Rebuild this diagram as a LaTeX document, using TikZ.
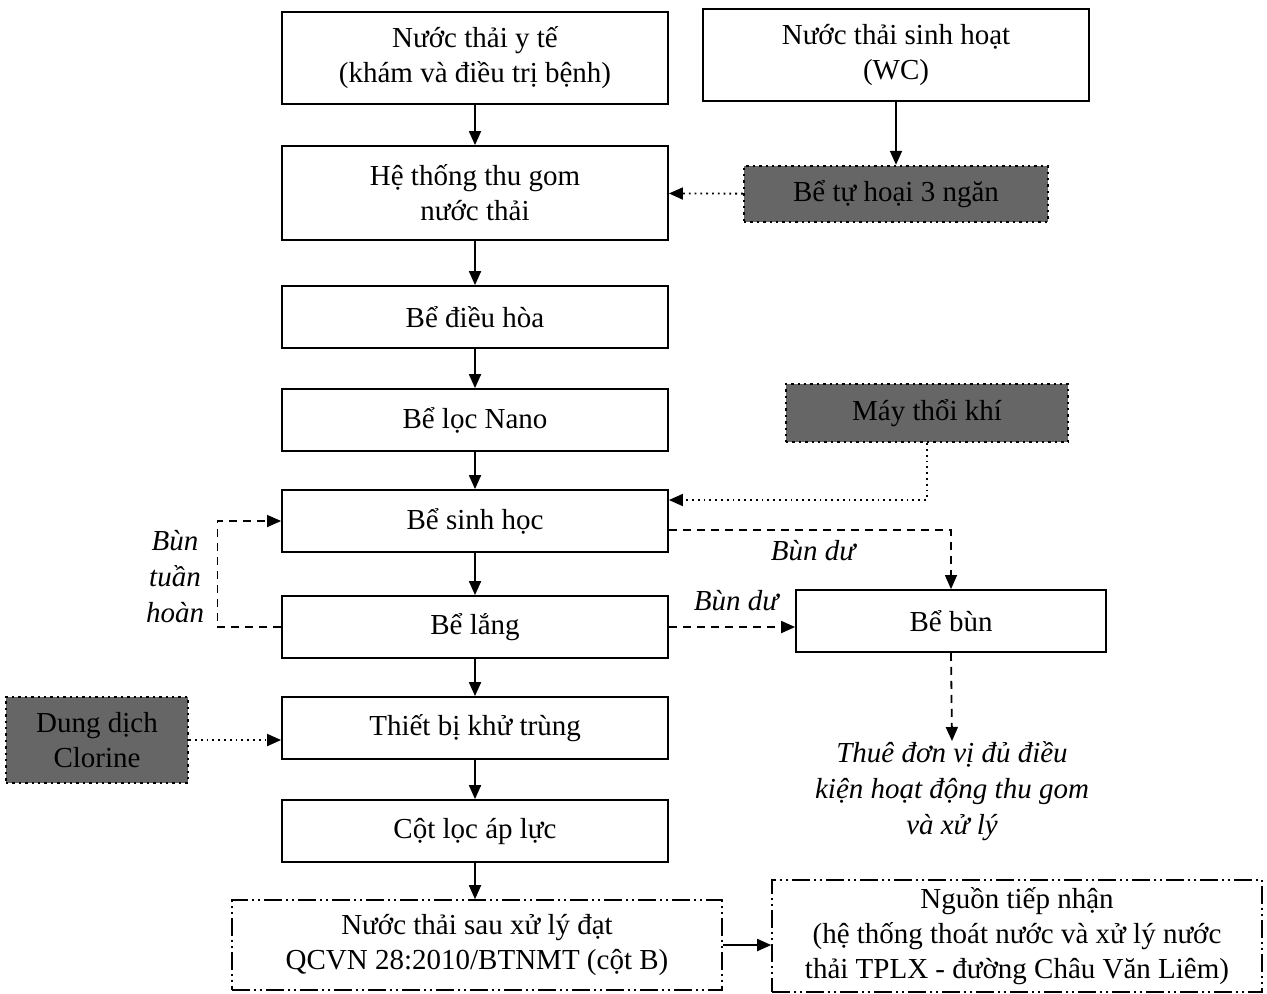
\documentclass[tikz,border=0pt]{standalone}
\usepackage{fontspec}
\setmainfont{Liberation Serif}
\usetikzlibrary{arrows.meta}

\tikzset{
    txt/.style={font=\fontsize{14.5}{17.5}\selectfont,align=center,inner sep=0pt},
    box/.style={txt,draw,line width=0.9pt,minimum width=193pt,minimum height=31pt},
    shadebox/.style={txt,draw,dotted,line width=1.2pt,fill=black!60},
    dashbox/.style={txt,draw,line width=0.8pt,
        dash pattern=on 9pt off 2pt on 1pt off 2pt on 1pt off 2pt},
    flow/.style={line width=0.9pt,-{Triangle[length=7pt,width=6pt]}},
    dotflow/.style={flow,dotted},
    dashflow/.style={flow,dash pattern=on 4pt off 3pt},
    note/.style={txt,font=\fontsize{14.5}{18}\selectfont\itshape}
}

\begin{document}
\begin{tikzpicture}[x=0.5pt,y=-0.5pt]
    \useasboundingbox (0,0) rectangle (1267,993);

    % sources
    \node[box,minimum height=46pt] (yte) at (475,58) {Nước thải y tế\\(khám và điều trị bệnh)};
    \node[box,minimum height=46pt] (wc) at (896,55) {Nước thải sinh hoạt\\(WC)};
    \node[shadebox,minimum width=152pt,minimum height=28pt] (tuhoai) at (896,194) {Bể tự hoại 3 ngăn};

    % main treatment line
    \node[box,minimum height=47pt] (thugom) at (475,193) {Hệ thống thu gom\\nước thải};
    \node[box] (dieuhoa) at (475,317) {Bể điều hòa};
    \node[box] (nano) at (475,420) {Bể lọc Nano};
    \node[shadebox,minimum width=141pt,minimum height=29pt] (maythoi) at (927,413) {Máy thổi khí};
    \node[box] (sinhhoc) at (475,521) {Bể sinh học};
    \node[box] (lang) at (475,627) {Bể lắng};
    \node[box,minimum width=155pt] (bun) at (951,621) {Bể bùn};
    \node[box] (khutrung) at (475,728) {Thiết bị khử trùng};
    \node[shadebox,minimum width=91pt,minimum height=43pt] (clorine) at (97,740) {Dung dịch\\Clorine};
    \node[box] (locapluc) at (475,831) {Cột lọc áp lực};

    % outlet
    \node[dashbox,minimum width=245pt,minimum height=45pt] (sauxuly) at (477,945) {Nước thải sau xử lý đạt\\QCVN 28:2010/BTNMT (cột B)};
    \node[dashbox,minimum width=245pt,minimum height=56pt] (nguon) at (1017,936) {Nguồn tiếp nhận\\(hệ thống thoát nước và xử lý nước\\thải TPLX - đường Châu Văn Liêm)};
    \node[note] (thue) at (952,791) {Thuê đơn vị đủ điều\\kiện hoạt động thu gom\\và xử lý};

    % main flow
    \draw[flow] (yte) -- (thugom);
    \draw[flow] (wc) -- (tuhoai);
    \draw[dotflow] (tuhoai) -- (thugom);
    \draw[flow] (thugom) -- (dieuhoa);
    \draw[flow] (dieuhoa) -- (nano);
    \draw[flow] (nano) -- (sinhhoc);
    \draw[flow] (sinhhoc) -- (lang);
    \draw[flow] (lang) -- (khutrung);
    \draw[flow] (khutrung) -- (locapluc);
    \draw[flow] (locapluc.south) -- (locapluc.south |- sauxuly.north);
    \draw[flow] (sauxuly.east) -- (sauxuly.east -| nguon.west);

    % air, chlorine
    \draw[dotflow] (maythoi.south) |- ([yshift=10.5pt]sinhhoc.east);
    \draw[dotflow] (clorine.east) -- (clorine.east -| khutrung.west);

    % sludge
    \draw[dashflow,line width=0.6pt] ([yshift=-4.5pt]sinhhoc.east) -| (bun.north);
    \node[note] (bundu1) at (813,551) {Bùn dư};
    \draw[dashflow] (lang.east) -- (lang.east -| bun.west);
    \node[note] (bundu2) at (736,601) {Bùn dư};
    \draw[dashflow,line width=0.6pt] (lang.west) -- ++(-64,0) |- (sinhhoc.west);
    \node[note] (tuanhoan) at (175,577) {Bùn\\tuần\\hoàn};
    \draw[dashflow] (bun.south) -- (thue.north);
\end{tikzpicture}
\end{document}
